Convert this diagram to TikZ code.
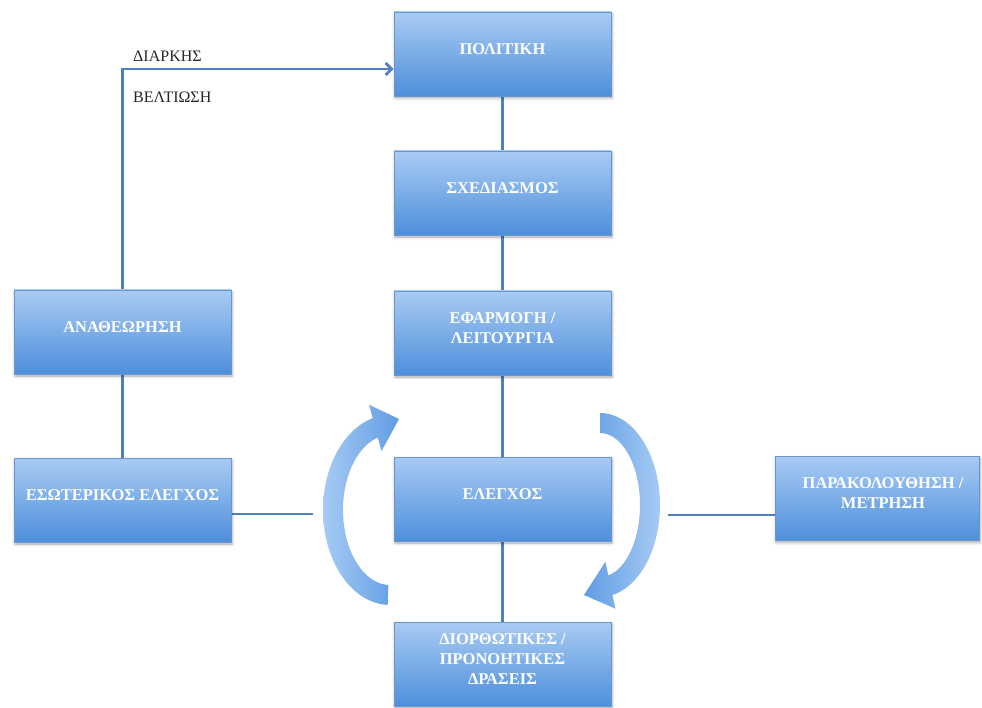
\documentclass[tikz,border=0pt]{standalone}
\usepackage{fontspec}
\setmainfont{Liberation Serif}
\usetikzlibrary{arrows.meta,shadows.blur}

\definecolor{boxtop}{RGB}{168,203,243}
\definecolor{boxbot}{RGB}{78,143,219}
\definecolor{boxline}{RGB}{105,150,205}
\definecolor{linkblue}{RGB}{79,129,189}
\definecolor{arrlight}{RGB}{166,203,244}
\definecolor{arrdark}{RGB}{96,156,226}

\pgfdeclarelayer{bg}
\pgfsetlayers{bg,main}

\begin{document}
\begin{tikzpicture}[x=1pt,y=-1pt,
  stagebox/.style={rectangle, minimum width=217pt, minimum height=84pt,
    inner sep=0pt, top color=boxtop, bottom color=boxbot,
    draw=boxline, line width=0.6pt,
    blur shadow={shadow xshift=1pt, shadow yshift=-2pt,
      shadow blur radius=3pt, shadow opacity=35}},
  stagetext/.style={text=white, font=\bfseries\fontsize{16.5}{20}\selectfont,
    align=center, inner sep=0pt, yshift=5pt},
  connector/.style={draw=linkblue, line width=2.8pt},
  note/.style={font=\fontsize{16}{19}\selectfont, text=black!85,
    anchor=base west, inner sep=0pt},
]
\useasboundingbox (0,0) rectangle (982,708);

% main chain of stages
\node[stagebox, label={[stagetext]center:ΠΟΛΙΤΙΚΗ}] (pol) at (502.5,54) {};
\node[stagebox, label={[stagetext]center:ΣΧΕΔΙΑΣΜΟΣ}] (plan) at (502.5,193) {};
\node[stagebox, label={[stagetext]center:{ΕΦΑΡΜΟΓΗ /\\ΛΕΙΤΟΥΡΓΙΑ}}] (impl) at (502.5,333) {};
\node[stagebox, label={[stagetext]center:ΕΛΕΓΧΟΣ}] (ctrl) at (502.5,499) {};
\node[stagebox, label={[stagetext]center:{ΔΙΟΡΘΩΤΙΚΕΣ /\\ΠΡΟΝΟΗΤΙΚΕΣ\\ΔΡΑΣΕΙΣ}}] (corr) at (502.5,664) {};

% review branch
\node[stagebox, label={[stagetext]center:ΑΝΑΘΕΩΡΗΣΗ}] (rev) at (122.5,332) {};
\node[stagebox, label={[stagetext]center:ΕΣΩΤΕΡΙΚΟΣ ΕΛΕΓΧΟΣ}] (intctrl) at (122.5,500) {};

% monitoring
\node[stagebox, minimum width=204pt,
  label={[stagetext, xshift=6pt]center:{ΠΑΡΑΚΟΛΟΥΘΗΣΗ /\\ΜΕΤΡΗΣΗ}}] (mon) at (877,498.5) {};

% labels on the improvement loop
\node[note] (lab1) at (133,62) {ΔΙΑΡΚΗΣ};
\node[note] (lab2) at (133,103) {ΒΕΛΤΙΩΣΗ};

\coordinate (turn) at (122.5,69);
\coordinate (lend) at (313,514);
\coordinate (rend) at (668,515);

\begin{pgfonlayer}{bg}
  \draw[connector, -{Straight Barb[length=6pt,width=12pt]}]
    (rev.north) |- (pol.west |- turn);
  \draw[connector] (pol.south) -- (plan.north);
  \draw[connector] (plan.south) -- (impl.north);
  \draw[connector] (impl.south) -- (ctrl.north);
  \draw[connector] (ctrl.south) -- (corr.north);
  \draw[connector] (rev.south) -- (intctrl.north);
  \draw[connector] (intctrl.east |- lend) -- (lend);
  \draw[connector] (rend) -- (mon.west |- rend);
\end{pgfonlayer}

% curved arrow on the left (upwards)
\shade[left color=arrlight, right color=arrdark]
  plot[domain=92:255, samples=60] ({390+67*cos(\x)},{510+95*sin(\x)})
  -- ({390+81*cos(255)},{510+109*sin(255)})
  -- (399,419)
  -- ({390+33*cos(255)},{510+61*sin(255)})
  -- plot[domain=255:92, samples=60] ({390+47*cos(\x)},{510+75*sin(\x)})
  -- cycle;

% curved arrow on the right (downwards)
\shade[left color=arrdark, right color=arrlight]
  plot[domain=-90:78, samples=60] ({600+60*cos(\x)},{505+92*sin(\x)})
  -- ({600+74*cos(78)},{505+106*sin(78)})
  -- (584,595)
  -- ({600+26*cos(78)},{505+58*sin(78)})
  -- plot[domain=78:-90, samples=60] ({600+40*cos(\x)},{505+72*sin(\x)})
  -- cycle;
\end{tikzpicture}
\end{document}
